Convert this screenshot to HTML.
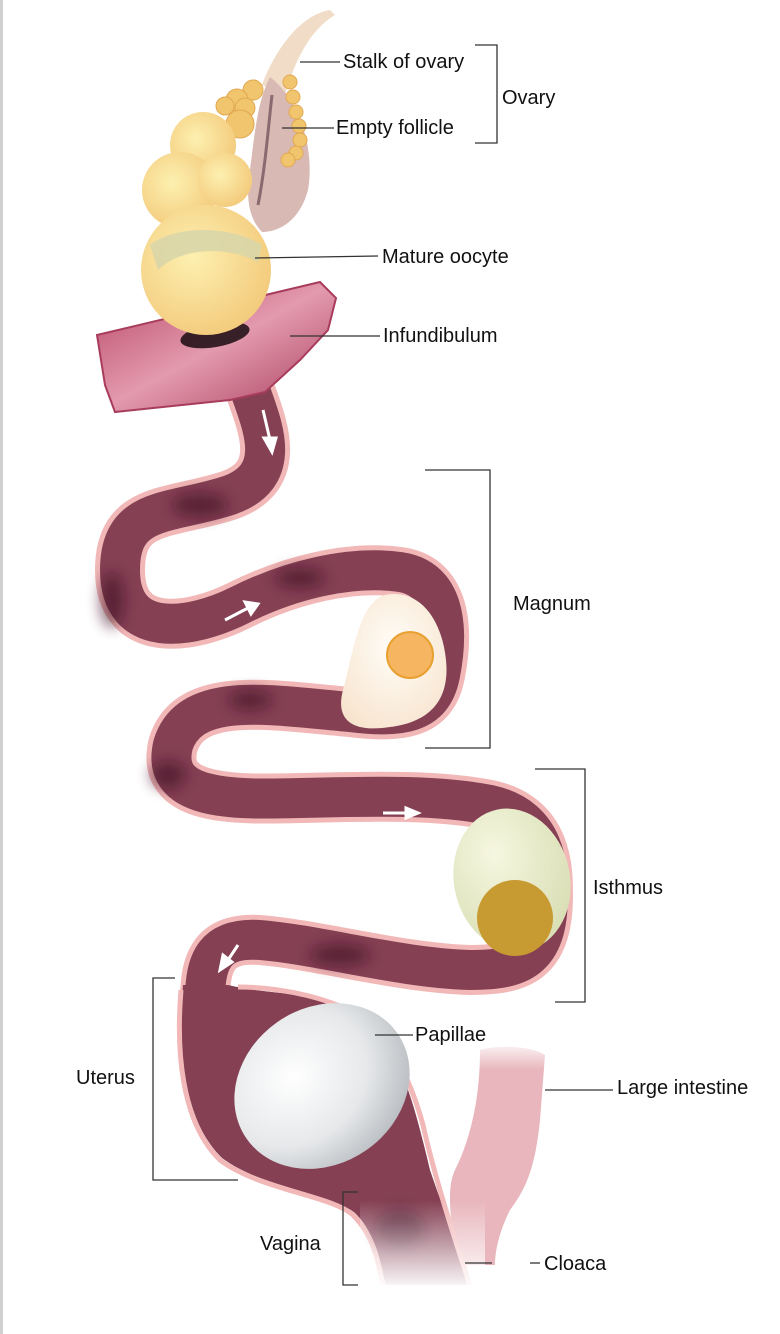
<!DOCTYPE html>
<html><head><meta charset="utf-8"><style>
html,body{margin:0;padding:0;background:#fff;}
svg{display:block;}
text{font-family:"Liberation Sans",sans-serif;font-size:20px;fill:#111;}
</style></head><body>
<svg width="780" height="1334" viewBox="0 0 780 1334" xmlns="http://www.w3.org/2000/svg">
<defs>
<radialGradient id="yel" cx="0.4" cy="0.4" r="0.7"><stop offset="0" stop-color="#fdf0b0"/><stop offset="1" stop-color="#f2c777"/></radialGradient>
<radialGradient id="wegg" cx="0.4" cy="0.35" r="0.7"><stop offset="0" stop-color="#ffffff"/><stop offset="0.6" stop-color="#e6e8ea"/><stop offset="1" stop-color="#b8bcc0"/></radialGradient>
<radialGradient id="megg" cx="0.5" cy="0.4" r="0.7"><stop offset="0" stop-color="#fffdf8"/><stop offset="1" stop-color="#f7e3cc"/></radialGradient>
<radialGradient id="iegg" cx="0.4" cy="0.3" r="0.8"><stop offset="0" stop-color="#f6f7e0"/><stop offset="1" stop-color="#d6dcb0"/></radialGradient>
<linearGradient id="fade" x1="0" y1="0" x2="0" y2="1"><stop offset="0" stop-color="#fff" stop-opacity="0"/><stop offset="1" stop-color="#fff" stop-opacity="1"/></linearGradient>
<linearGradient id="fadeT" x1="0" y1="0" x2="0" y2="1"><stop offset="0" stop-color="#fff" stop-opacity="1"/><stop offset="1" stop-color="#fff" stop-opacity="0"/></linearGradient>
<linearGradient id="inf" x1="0" y1="0" x2="1" y2="1"><stop offset="0" stop-color="#b84666"/><stop offset="0.5" stop-color="#e39aae"/><stop offset="1" stop-color="#a83c5c"/></linearGradient>
<filter id="bl" x="-50%" y="-50%" width="200%" height="200%"><feGaussianBlur stdDeviation="7"/></filter>
</defs>
<rect x="0" y="0" width="3" height="1334" fill="#d0d0d0"/>

<!-- Large intestine -->
<path d="M480 1050 C495 1045 530 1045 545 1055 L540 1120 C535 1170 525 1190 510 1210 C500 1230 495 1250 495 1265 L458 1265 C452 1230 445 1190 455 1170 C470 1140 480 1100 480 1050 Z" fill="#e8b6bc"/>
<rect x="470" y="1040" width="85" height="30" fill="url(#fadeT)"/>

<!-- Tube -->
<g fill="none" stroke-linecap="butt" stroke-linejoin="round">
<path d="M250 390 C262 425 285 475 230 495 C170 515 120 505 120 570 C120 640 190 630 240 605 C290 580 350 565 400 572 C455 580 445 650 440 675 C432 715 400 718 350 712 C270 705 190 690 173 745 C160 800 230 800 300 798 C380 796 440 795 490 805 C548 818 548 870 548 895 C548 960 520 970 470 970 C400 968 320 945 260 940 C215 937 205 960 205 1000" stroke="#f2b8b8" stroke-width="50"/>
<path d="M250 390 C262 425 285 475 230 495 C170 515 120 505 120 570 C120 640 190 630 240 605 C290 580 350 565 400 572 C455 580 445 650 440 675 C432 715 400 718 350 712 C270 705 190 690 173 745 C160 800 230 800 300 798 C380 796 440 795 490 805 C548 818 548 870 548 895 C548 960 520 970 470 970 C400 968 320 945 260 940 C215 937 205 960 205 1000" stroke="#854054" stroke-width="40"/>
</g>

<!-- Uterus + vagina -->
<path d="M183 985 C178 1050 183 1120 222 1158 C262 1188 330 1193 355 1213 C375 1233 380 1260 385 1285 L468 1285 C456 1240 440 1200 430 1170 C418 1120 408 1080 390 1050 C370 1020 340 1002 300 995 C270 992 250 990 228 985 Z" fill="#854054"/>
<path d="M181 990 C176 1050 181 1122 220 1160 C260 1190 330 1195 353 1215 C373 1235 378 1260 383 1285" fill="none" stroke="#f2b8b8" stroke-width="5"/>
<path d="M238 987 C280 987 335 998 365 1020 C395 1045 412 1085 423 1125 C432 1165 445 1210 470 1285" fill="none" stroke="#f2b8b8" stroke-width="5"/>
<!-- dark shading -->
<g fill="#3e0f22" opacity="0.6" filter="url(#bl)">
<ellipse cx="200" cy="505" rx="28" ry="12"/>
<ellipse cx="112" cy="600" rx="12" ry="28"/>
<ellipse cx="300" cy="578" rx="25" ry="10"/>
<ellipse cx="168" cy="775" rx="18" ry="14"/>
<ellipse cx="250" cy="700" rx="22" ry="10"/>
<ellipse cx="340" cy="955" rx="30" ry="11"/>
<ellipse cx="400" cy="1230" rx="25" ry="20"/>
</g>

<!-- Eggs -->
<path d="M385 595 C420 588 442 620 446 660 C450 700 430 722 390 727 C352 733 335 720 343 690 C352 660 358 602 385 595 Z" fill="url(#megg)"/>
<circle cx="410" cy="655" r="23" fill="#f6b560" stroke="#e8a030" stroke-width="2"/>
<ellipse cx="512" cy="880" rx="58" ry="72" transform="rotate(-12 512 880)" fill="url(#iegg)"/>
<circle cx="515" cy="918" r="38" fill="#c89a32"/>
<ellipse cx="322" cy="1086" rx="92" ry="78" transform="rotate(-35 322 1086)" fill="url(#wegg)"/>
<rect x="360" y="1200" width="125" height="90" fill="url(#fade)"/>

<!-- Arrows -->
<g stroke="#fff" stroke-width="3" fill="#fff">
<line x1="263" y1="410" x2="270" y2="440"/><polygon points="264,438 276,438 272,452"/>
<line x1="225" y1="620" x2="248" y2="608"/><polygon points="245,602 251,614 258,604"/>
<line x1="383" y1="813" x2="408" y2="813"/><polygon points="406,808 406,818 418,813"/>
<line x1="238" y1="945" x2="228" y2="960"/><polygon points="223,955 232,962 220,970"/>
</g>

<!-- Infundibulum -->
<path d="M97 335 L320 282 L336 298 L328 330 L300 360 L265 392 L230 400 L115 412 L105 385 Z" fill="url(#inf)" stroke="#a83c5c" stroke-width="2"/>
<ellipse cx="215" cy="335" rx="35" ry="12" fill="#1a0a10" opacity="0.85" transform="rotate(-10 215 335)"/>

<!-- Ovary -->
<path d="M330 10 C300 15 275 50 262 85 L285 95 C295 60 310 30 335 15 Z" fill="#f1dcc8"/>
<path d="M270 77 C300 100 315 150 308 190 C300 220 280 232 262 232 C250 220 245 200 250 170 C255 130 258 100 270 77 Z" fill="#d9b9b3"/>
<path d="M272 95 C268 130 265 170 258 205" stroke="#8a6a70" stroke-width="3" fill="none"/>
<g fill="#f1c56e" stroke="#e0a850" stroke-width="1">
<circle cx="290" cy="82" r="7"/><circle cx="293" cy="97" r="7"/><circle cx="296" cy="112" r="7"/><circle cx="299" cy="126" r="7"/><circle cx="300" cy="140" r="7"/><circle cx="296" cy="153" r="7"/><circle cx="288" cy="160" r="7"/>
<circle cx="253" cy="90" r="10"/><circle cx="237" cy="100" r="11"/><circle cx="225" cy="106" r="9"/><circle cx="245" cy="108" r="10"/><circle cx="240" cy="124" r="14"/>
</g>
<circle cx="203" cy="145" r="33" fill="url(#yel)"/>
<circle cx="180" cy="190" r="38" fill="url(#yel)"/>
<circle cx="225" cy="180" r="27" fill="url(#yel)"/>
<circle cx="206" cy="270" r="65" fill="url(#yel)"/>
<path d="M150 245 C175 225 230 225 262 245 L258 262 C225 245 180 248 158 270 Z" fill="#d9d6a8" opacity="0.9"/>

<!-- Labels & leaders -->
<g stroke="#333" stroke-width="1.3" fill="none">
<line x1="300" y1="62" x2="340" y2="62"/>
<line x1="282" y1="128" x2="334" y2="128"/>
<polyline points="475,45 497,45 497,143 475,143"/>
<line x1="255" y1="258" x2="378" y2="256"/>
<line x1="290" y1="336" x2="380" y2="336"/>
<polyline points="425,470 490,470 490,748 425,748"/>
<polyline points="535,769 585,769 585,1002 555,1002"/>
<polyline points="175,978 153,978 153,1180 238,1180"/>
<line x1="375" y1="1035" x2="413" y2="1035"/>
<line x1="545" y1="1090" x2="613" y2="1090"/>
<polyline points="358,1192 343,1192 343,1285 358,1285"/>
<line x1="465" y1="1263" x2="492" y2="1263"/>
<line x1="530" y1="1263" x2="540" y2="1263"/>
</g>
<text x="343" y="68">Stalk of ovary</text>
<text x="336" y="134">Empty follicle</text>
<text x="502" y="104">Ovary</text>
<text x="382" y="263">Mature oocyte</text>
<text x="383" y="342">Infundibulum</text>
<text x="513" y="610">Magnum</text>
<text x="593" y="894">Isthmus</text>
<text x="76" y="1084">Uterus</text>
<text x="415" y="1041">Papillae</text>
<text x="617" y="1094">Large intestine</text>
<text x="260" y="1250">Vagina</text>
<text x="544" y="1270">Cloaca</text>
</svg>
</body></html>
